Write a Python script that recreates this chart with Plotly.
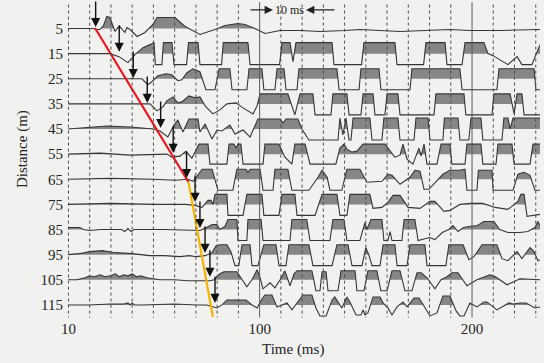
import numpy as np
import plotly.graph_objects as go

# ---------------- data (time in ms, relative amplitude) ----------------
DISTANCES = [5, 15, 25, 35, 45, 55, 65, 75, 85, 95, 105, 115]
TIME_TICKS = [10, 100, 200]
GRID_TIMES = list(range(10, 231, 10))
SOLID_TIMES = [100, 200]

TRACE_05 = [(9.8,0),(21.5,0),(22.9,-1),(24.8,-1),(26.5,3),(28.1,12),(29.5,11),(31.9,-3),(33.3,1),(34.2,2),
            (35.7,-2),(36.6,-4),(37.5,1),(39.0,-1),(42.3,-8),(46.0,-4),(49.8,4),(51.7,11),(60.1,11),(64.9,2),
            (71.9,-6),(75.2,-4),(79.0,-1),(83.7,3),(89.8,5),(93.1,4),(97.8,0),(102.5,-5),(109.6,-2),(119.0,-2),
            (128.4,-3),(140.2,-2),(147.2,-1),(166.1,-3),(180.2,-2),(189.6,-1),(199.0,-2),(213.1,-2),(232.0,-1)]
TRACE_15 = [(9.8,0),(29.5,0),(33.8,-3),(38.0,-9),(41.3,-1),(45.1,6),(48.4,9),(50.3,11),(50.9,-11),(54.0,-11),
            (54.7,11),(58.7,11),(59.7,-11),(65.6,-11),(66.5,11),(71.0,11),(71.9,-11),(82.1,-11),(82.9,11),(94.5,11),
            (95.5,-11),(109.4,-11),(110.5,11),(114.3,11),(115.7,-8),(117.1,11),(134.1,11),(135.0,-11),(148.0,-11),(149.1,11),
            (163.7,11),(164.7,-11),(177.2,-11),(178.3,11),(187.3,11),(188.2,-11),(195.3,-11),(196.7,11),(205.6,11),(207.5,0),
            (209.9,-2),(216.9,-11),(221.2,-3),(223.5,-11),(228.2,-11),(232.0,9)]
TRACE_25 = [(9.8,0),(44.6,0),(47.4,-6),(49.3,-3),(52.1,3),(55.9,5),(58.7,4),(61.5,-2),(63.4,-1),(65.8,6),
            (68.6,10),(71.9,7),(74.7,-11),(79.0,-11),(80.9,10),(86.0,10),(87.0,-11),(94.0,-11),(95.0,10),(101.1,10),
            (102.0,-11),(107.2,-11),(108.2,10),(111.5,10),(112.4,-11),(117.6,-11),(118.5,10),(136.4,10),(137.4,-11),(146.8,-11),
            (147.7,10),(156.2,10),(157.1,-11),(170.8,-11),(171.7,10),(194.3,10),(195.3,-11),(211.7,-11),(212.7,10),(229.2,10),
            (230.1,-11),(232.0,-11)]
TRACE_35 = [(9.8,0),(48.4,0),(51.7,-7),(54.5,-3),(56.3,3),(59.2,7),(61.5,1),(63.4,2),(66.7,8),(69.6,6),
            (71.9,7),(74.3,-2),(78.0,-10),(81.3,-6),(84.6,0),(88.9,1),(92.2,-4),(96.9,-10),(98.8,-2),(100.2,10),
            (113.3,10),(116.6,-11),(119.0,10),(125.1,10),(126.1,-11),(133.6,-11),(134.5,10),(141.1,10),(142.1,-11),(147.7,-11),
            (148.7,10),(153.4,10),(154.3,-11),(159.0,-11),(160.0,10),(165.1,10),(166.1,-11),(182.1,-11),(183.0,10),(196.2,10),
            (197.1,-11),(209.4,-11),(210.3,10),(217.9,10),(219.8,-10),(221.2,10),(223.5,10),(224.5,-11),(232.0,-11)]
TRACE_45 = [(9.8,0),(20.1,2),(28.1,3),(39.0,2),(49.8,0),(53.1,-2),(56.8,-8),(59.7,4),(61.5,9),(63.9,-3),
            (66.7,10),(71.0,10),(71.9,-3),(74.3,5),(77.6,-10),(79.9,-1),(82.3,-2),(86.0,4),(88.4,-5),(92.2,-1),
            (95.5,-8),(99.2,10),(109.6,10),(111.0,6),(112.4,10),(118.0,10),(119.9,0),(123.2,-11),(136.9,-11),(137.8,11),
            (139.2,-6),(140.6,11),(142.1,-11),(143.0,-11),(144.0,11),(151.9,11),(152.9,-11),(157.6,-11),(158.5,11),(165.1,11),
            (166.1,-11),(172.7,-11),(173.6,11),(179.3,11),(180.2,-11),(186.3,-11),(187.0,11),(193.4,11),(194.3,-11),(198.5,-11),
            (199.5,11),(204.2,11),(205.1,-11),(214.1,-11),(215.0,11),(216.9,11),(217.9,0),(219.3,11),(232.0,11)]
TRACE_55 = [(9.8,0),(24.8,1),(39.0,-1),(56.3,0),(58.7,-3),(62.5,-2),(65.3,3),(68.1,-4),(70.5,6),(71.4,10),
            (75.7,10),(76.6,-10),(84.6,-10),(85.6,10),(87.9,10),(88.9,6),(89.8,10),(91.2,10),(92.2,-10),(101.6,-10),
            (102.5,10),(109.1,10),(111.9,-3),(115.2,-10),(116.6,10),(121.4,10),(123.7,-10),(135.9,-10),(137.8,6),(139.7,10),
            (141.1,5),(143.5,2),(145.8,3),(148.7,10),(159.0,10),(163.7,-3),(166.1,-1),(167.5,10),(169.4,-5),(172.2,-10),
            (175.0,6),(176.0,-2),(177.4,10),(178.8,-10),(183.5,-10),(185.4,10),(189.6,10),(190.5,-10),(196.7,-10),(197.6,10),
            (204.2,10),(205.1,-10),(211.3,-10),(212.2,10),(218.8,10),(219.8,-10),(227.3,-10),(228.7,10),(232.0,10)]
TRACE_65 = [(9.8,0),(30.0,1),(50.0,0),(60.1,-1),(66.3,0),(68.6,-2),(70.5,3),(72.9,10),(77.6,10),(80.4,-11),
            (87.4,-11),(89.3,10),(93.6,10),(94.5,7),(95.5,10),(100.2,10),(101.6,-11),(106.3,-11),(107.2,10),(113.3,10),
            (115.2,-11),(123.2,-11),(127.5,2),(129.4,9),(131.8,2),(133.1,-11),(138.7,-11),(141.1,10),(147.2,10),(150.5,-3),
            (157.6,-2),(160.4,5),(162.3,4),(166.1,-5),(170.8,2),(173.1,9),(175.5,8),(177.4,-10),(179.7,-10),(186.3,5),
            (189.6,9),(194.3,9),(196.7,10),(197.6,-11),(202.3,-11),(203.0,9),(209.4,9),(209.9,-11),(219.3,-11),(221.6,5),
            (224.5,7),(227.3,4),(229.6,-11),(232.0,-11)]
TRACE_75 = [(9.8,0),(30.0,1),(50.0,0),(65.0,0),(69.6,-1),(72.9,-3),(75.7,4),(77.1,4),(78.0,0),(79.0,10),
            (84.6,10),(85.1,-11),(92.2,-11),(94.0,10),(101.1,10),(102.0,-11),(109.1,-11),(110.5,10),(116.6,10),(117.6,-11),
            (126.1,-11),(129.4,10),(136.4,10),(137.8,-11),(141.1,-11),(142.5,10),(151.9,10),(153.4,-4),(157.6,-3),(160.4,2),
            (162.8,9),(166.1,9),(169.9,-3),(175.5,-4),(180.2,3),(182.5,3),(186.8,-7),(189.6,-6),(194.3,0),(199.5,1),
            (205.1,1),(210.8,-3),(216.9,-5),(221.6,3),(223.0,10),(224.5,10),(225.9,-12),(229.6,-11),(232.0,-10)]
TRACE_85 = [(9.8,2),(15.4,2),(17.0,0),(20.1,-1),(25.0,0),(35.0,0),(36.5,-2),(38.0,1),(39.5,-2),(41.0,0),
            (55.0,0),(65.0,-1),(72.0,-1),(75.0,2),(77.6,5),(79.9,5),(81.3,0),(83.7,3),(85.1,10),(89.3,10),
            (89.8,-11),(94.0,-11),(94.5,10),(100.7,10),(101.6,-11),(114.3,-11),(115.2,10),(122.2,10),(123.7,-11),(133.1,-11),
            (134.5,10),(139.7,10),(141.1,-11),(147.2,-11),(149.6,7),(150.5,0),(152.4,10),(157.6,10),(158.5,-11),(160.4,-11),
            (161.4,-2),(162.3,-11),(167.0,-11),(168.0,10),(173.1,10),(174.6,-11),(180.0,-8),(182.5,-10),(186.0,-3),(189.0,0),
            (191.0,4),(193.4,-2),(196.0,2),(198.5,3),(202.5,4),(205.6,8),(210.3,8),(213.0,0),(216.9,-3),(222.6,-3),
            (226.3,-2),(229.6,2),(231.0,8),(232.0,4)]
TRACE_95 = [(9.8,0),(15.0,1),(20.1,3),(26.0,4),(32.0,2),(40.0,1),(48.0,-1),(55.0,-1),(62.5,-2),(67.0,-1),
            (70.0,-2),(74.3,-1),(77.6,2),(79.5,9),(81.3,10),(84.6,10),(86.5,3),(88.4,-11),(90.2,-11),(91.7,10),
            (95.5,10),(96.4,-11),(99.2,-11),(102.0,10),(107.7,10),(109.1,-11),(112.4,-11),(113.8,10),(123.2,10),(125.1,-11),
            (134.1,-11),(136.4,10),(141.6,10),(143.5,-11),(148.2,-11),(150.0,7),(151.4,0),(152.9,-11),(156.7,-11),(158.1,10),
            (163.7,10),(164.7,-11),(169.4,-11),(170.8,10),(177.8,10),(178.8,-11),(187.7,-11),(189.1,10),(195.8,10),(198.5,-5),
            (200.9,-2),(204.7,10),(211.7,10),(214.1,-4),(216.9,-6),(221.2,3),(223.5,-4),(227.3,7),(229.2,3),(231.0,-6),
            (232.0,-5)]
TRACE_105 = [(9.8,0),(14.0,0),(17.8,2),(20.0,4),(22.0,3),(25.0,5),(27.0,3),(30.0,4),(32.0,6),(34.0,3),
             (36.0,5),(38.0,4),(40.0,6),(42.0,3),(44.0,4),(47.0,2),(50.0,1),(53.0,0),(60.0,0),(66.0,-1),
             (76.6,-1),(78.5,0),(81.3,6),(83.2,8),(89.3,8),(91.7,0),(94.0,-7),(96.4,0),(98.8,10),(100.2,2),
             (101.6,-9),(104.9,-3),(107.2,-8),(109.6,0),(111.9,9),(114.3,-6),(116.2,6),(117.6,9),(124.6,9),(125.6,-1),
             (126.5,-11),(128.4,-11),(129.4,8),(131.3,8),(132.2,-11),(136.9,-11),(138.3,9),(144.9,9),(145.8,-11),(149.1,-11),
             (151.0,9),(155.2,9),(157.1,-11),(160.0,-11),(162.3,9),(166.1,9),(168.4,-11),(171.7,-11),(174.1,7),(176.0,7),
             (178.8,2),(182.5,-9),(185.4,0),(188.2,3),(190.5,7),(193.4,7),(197.6,-6),(202.3,0),(208.4,5),(211.0,3),
             (216.5,-5),(222.6,1),(230.6,0),(232.0,0)]
TRACE_115 = [(9.8,0),(20.0,0),(29.5,1),(36.0,1),(38.0,2),(39.0,0),(40.0,2),(41.0,0),(45.0,0),(55.0,1),
             (60.0,1),(70.0,0),(75.0,0),(79.9,-3),(82.3,0),(84.6,5),(93.6,5),(96.4,0),(98.8,-3),(101.1,6),
             (102.5,10),(105.8,10),(108.2,-2),(110.5,0),(112.9,2),(115.2,-5),(118.0,3),(120.4,10),(124.6,10),(126.5,-3),
             (128.4,-11),(131.3,-11),(134.1,5),(135.4,8),(138.7,-3),(141.1,8),(142.5,3),(145.4,-10),(147.7,-10),(148.7,-5),
             (149.6,-10),(151.0,-8),(153.4,8),(156.7,8),(158.1,2),(160.4,-3),(162.3,-10),(164.7,-2),(167.5,3),(169.4,-2),
             (172.7,7),(175.0,7),(176.5,2),(180.2,-11),(183.5,-8),(186.3,9),(189.6,9),(192.5,-6),(194.3,-11),(196.2,-11),
             (199.0,2),(202.3,-2),(205.6,3),(207.0,3),(211.7,-5),(217.4,2),(219.3,1),(222.6,2),(225.4,2),(229.6,-3),
             (232.0,-2)]
TRACES = [TRACE_05, TRACE_15, TRACE_25, TRACE_35, TRACE_45, TRACE_55,
          TRACE_65, TRACE_75, TRACE_85, TRACE_95, TRACE_105, TRACE_115]

# first-arrival picks (arrow tips)
ARROW_TIMES = [22.8, 33.9, 40.5, 47.1, 53.4, 59.3, 65.6, 69.6, 71.9, 74.3, 76.6, 79.0]
ARROW_DIST = [4.4, 14.3, 24.7, 34.6, 44.6, 54.5, 64.5, 74.0, 84.4, 94.3, 103.8, 114.2]

# velocity lines
RED_T = [22.5, 66.5]
RED_D = [4.8, 66.1]
ORANGE_T = [66.5, 78.0]
ORANGE_D = [66.1, 119.8]

# ---------------- styling ----------------
AMP = 1 / 2.514          # relative amplitude unit -> metres of offset on the plot
BG = "#f1f1f0"
FILL = "#868686"
LINE = "#353535"
SERIF = "Liberation Serif"

fig = go.Figure()

for d, tr in zip(DISTANCES, TRACES):
    t = np.array([p[0] for p in tr], dtype=float)
    a = np.array([p[1] for p in tr], dtype=float)
    ft, fa = [t[0]], [a[0]]
    for i in range(1, len(t)):
        if (a[i - 1] > 0) != (a[i] > 0):
            tc = t[i - 1] + (0 - a[i - 1]) * (t[i] - t[i - 1]) / (a[i] - a[i - 1])
            ft.append(tc)
            fa.append(0.0)
        ft.append(t[i])
        fa.append(a[i])
    ft = np.array(ft)
    fa = np.clip(np.array(fa), 0, None)
    px = np.concatenate([ft, ft[::-1]])
    py = np.concatenate([d - fa * AMP, np.full(len(ft), float(d))])
    fig.add_trace(go.Scatter(x=px, y=py, fill="toself", fillcolor=FILL, mode="lines",
                             line=dict(width=0), hoverinfo="skip", showlegend=False))
    fig.add_trace(go.Scatter(x=t, y=d - a * AMP, mode="lines",
                             line=dict(color=LINE, width=1.1), hoverinfo="skip", showlegend=False))

fig.add_trace(go.Scatter(x=RED_T, y=RED_D, mode="lines",
                         line=dict(color="#e8161e", width=2.2), showlegend=False))
fig.add_trace(go.Scatter(x=ORANGE_T, y=ORANGE_D, mode="lines",
                         line=dict(color="#f6b400", width=2.2), showlegend=False))

shapes = []
for g in GRID_TIMES:
    if g in SOLID_TIMES:
        continue
    shapes.append(dict(type="line", xref="x", yref="y", x0=g, x1=g, y0=-4.5, y1=120,
                       line=dict(color="#4a4a4a", width=1, dash="dot"), layer="above"))
for g in SOLID_TIMES:
    shapes.append(dict(type="line", xref="x", yref="y", x0=g, x1=g, y0=-5.5, y1=120,
                       line=dict(color="#5a5a5a", width=1), layer="above"))

annotations = []
for at, ad in zip(ARROW_TIMES, ARROW_DIST):
    annotations.append(dict(x=at, y=ad, xref="x", yref="y", text="", showarrow=True,
                            ax=0, ay=-28, arrowhead=2, arrowsize=1.3, arrowwidth=1.4,
                            arrowcolor="#111111"))
# 10 ms scale marker
annotations.append(dict(x=106.3, y=-2.4, xref="x", yref="y", text="", showarrow=True,
                        ax=-24, ay=0, arrowhead=2, arrowsize=1.2, arrowwidth=1.4, arrowcolor="#222"))
annotations.append(dict(x=121.8, y=-2.4, xref="x", yref="y", text="", showarrow=True,
                        ax=30, ay=0, arrowhead=2, arrowsize=1.2, arrowwidth=1.4, arrowcolor="#222"))
annotations.append(dict(x=114.2, y=-2.4, xref="x", yref="y", text="10 ms", showarrow=False,
                        font=dict(family=SERIF, size=12, color="#222")))
# axis titles
annotations.append(dict(x=-0.109, y=0.53, xref="paper", yref="paper", text="Distance (m)",
                        textangle=-90, showarrow=False, font=dict(family=SERIF, size=15, color="#222")))
annotations.append(dict(x=0.481, y=-0.10, xref="paper", yref="paper", text="Time (ms)",
                        showarrow=False, yanchor="middle", font=dict(family=SERIF, size=15, color="#222")))

fig.update_layout(
    template="none",
    width=544, height=363,
    margin=dict(l=64, r=4, t=0, b=45, autoexpand=False),
    paper_bgcolor=BG, plot_bgcolor=BG,
    shapes=shapes, annotations=annotations,
    font=dict(family=SERIF, size=15, color="#222"),
    xaxis=dict(range=[7.9, 232.0], tickvals=TIME_TICKS, showgrid=False, zeroline=False,
               showline=False, ticks="", automargin=False,
               tickfont=dict(family=SERIF, size=15, color="#222")),
    yaxis=dict(range=[120.2, -6.34], tickvals=DISTANCES, showgrid=False, zeroline=False,
               showline=False, ticks="", automargin=False,
               tickfont=dict(family=SERIF, size=15, color="#222")),
)

fig.write_html("out.html", config={"displayModeBar": False},
               post_script="document.body.style.margin='0px';document.body.style.background='%s';" % BG)
